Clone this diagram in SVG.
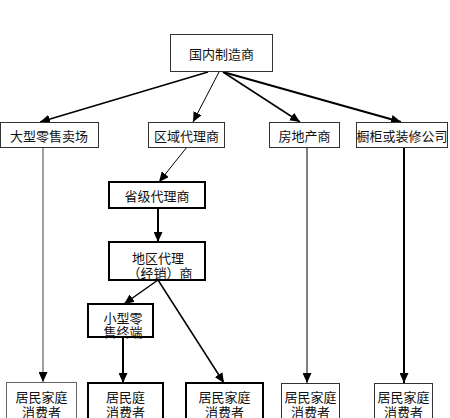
<svg xmlns="http://www.w3.org/2000/svg" width="450" height="418" viewBox="0 0 450 418">
<style>
text{font-family:"Noto Sans CJK SC","Noto Sans",sans-serif;font-size:13px;fill:#111;text-anchor:middle;dominant-baseline:central}
.n{fill:#fff;stroke:#333;stroke-width:1}
.b{fill:#fff;stroke:#000;stroke-width:2}
.c{stroke:#000;fill:none}
</style>
<defs>
<marker id="ah" markerUnits="userSpaceOnUse" markerWidth="10" markerHeight="9" refX="10" refY="4.5" orient="auto" viewBox="0 0 10 9">
<path d="M0,0 L10,4.5 L0,9 z" fill="#000"/>
</marker>
<marker id="ahg" markerUnits="userSpaceOnUse" markerWidth="10" markerHeight="9" refX="10" refY="4.5" orient="auto" viewBox="0 0 10 9">
<path d="M0,0 L10,4.5 L0,9 z" fill="#000"/>
</marker>
</defs>
<rect width="450" height="418" fill="#fff"/>
<g id="connectors">
<line class="c" x1="208" y1="72" x2="40" y2="122" stroke-width="1.5" marker-end="url(#ah)"/>
<line class="c" x1="219" y1="72" x2="193" y2="122" stroke-width="1" marker-end="url(#ah)"/>
<line class="c" x1="223" y1="72" x2="300" y2="122" stroke-width="1.5" marker-end="url(#ah)"/>
<line class="c" x1="223" y1="72" x2="401" y2="122" stroke-width="2" marker-end="url(#ah)"/>
<line x1="43" y1="147" x2="43" y2="382" stroke="#808080" stroke-width="1.5" marker-end="url(#ahg)"/>
<line class="c" x1="187" y1="147" x2="159" y2="182" stroke-width="1" marker-end="url(#ah)"/>
<line class="c" x1="158" y1="208" x2="158" y2="242" stroke-width="2" marker-end="url(#ah)"/>
<line class="c" x1="158" y1="280" x2="124" y2="304" stroke-width="1.5" marker-end="url(#ah)"/>
<line class="c" x1="158" y1="280" x2="224" y2="383" stroke-width="1.5" marker-end="url(#ah)"/>
<line class="c" x1="123" y1="337" x2="123" y2="383" stroke-width="2" marker-end="url(#ah)"/>
<line class="c" x1="307" y1="147" x2="307" y2="383" stroke-width="1" marker-end="url(#ah)"/>
<line class="c" x1="404" y1="147" x2="404" y2="383" stroke-width="2" marker-end="url(#ah)"/>
</g>
<g id="n-manufacturer"><rect class="n" x="170.5" y="34.5" width="102" height="37"/><text x="221.5" y="53">国内制造商</text></g>
<g id="n-bigretail"><rect class="n" x="0.5" y="122.5" width="98" height="25"/><text x="49" y="135">大型零售卖场</text></g>
<g id="n-regional"><rect class="n" x="148.5" y="122.5" width="76" height="25"/><text x="186.5" y="135">区域代理商</text></g>
<g id="n-realestate"><rect class="n" x="269.5" y="122.5" width="70" height="25"/><text x="304.5" y="135">房地产商</text></g>
<g id="n-cabinet"><rect class="n" x="356.5" y="122.5" width="91" height="25"/><text x="402" y="135">橱柜或装修公司</text></g>
<g id="n-provincial"><rect class="b" x="109" y="182" width="96" height="26"/><text x="157" y="195">省级代理商</text></g>
<g id="n-local"><rect class="b" x="109" y="242" width="96" height="38"/><text x="158" y="257">地区代理</text><text x="160" y="272">（经销）商</text></g>
<g id="n-smallretail"><rect class="b" x="88" y="304" width="65" height="33"/><text x="123" y="317">小型零</text><text x="123" y="331">售终端</text></g>
<g id="n-consumer1"><rect x="6.5" y="382.5" width="70" height="37" fill="#fff" stroke="#666" stroke-width="1"/><text x="41.5" y="396">居民家庭</text><text x="41.5" y="411">消费者</text></g>
<g id="n-consumer2"><rect class="b" x="88" y="383" width="75" height="37"/><text x="125.5" y="396">居民庭</text><text x="125.5" y="411">消费者</text></g>
<g id="n-consumer3"><rect class="b" x="186" y="383" width="77" height="37"/><text x="224.5" y="396">居民家庭</text><text x="224.5" y="411">消费者</text></g>
<g id="n-consumer4"><rect class="n" x="281.5" y="383.5" width="58" height="37"/><text x="310.5" y="396">居民家庭</text><text x="310.5" y="411">消费者</text></g>
<g id="n-consumer5"><rect class="n" x="374.5" y="383.5" width="58" height="37"/><text x="403.5" y="396">居民家庭</text><text x="403.5" y="411">消费者</text></g>
</svg>
